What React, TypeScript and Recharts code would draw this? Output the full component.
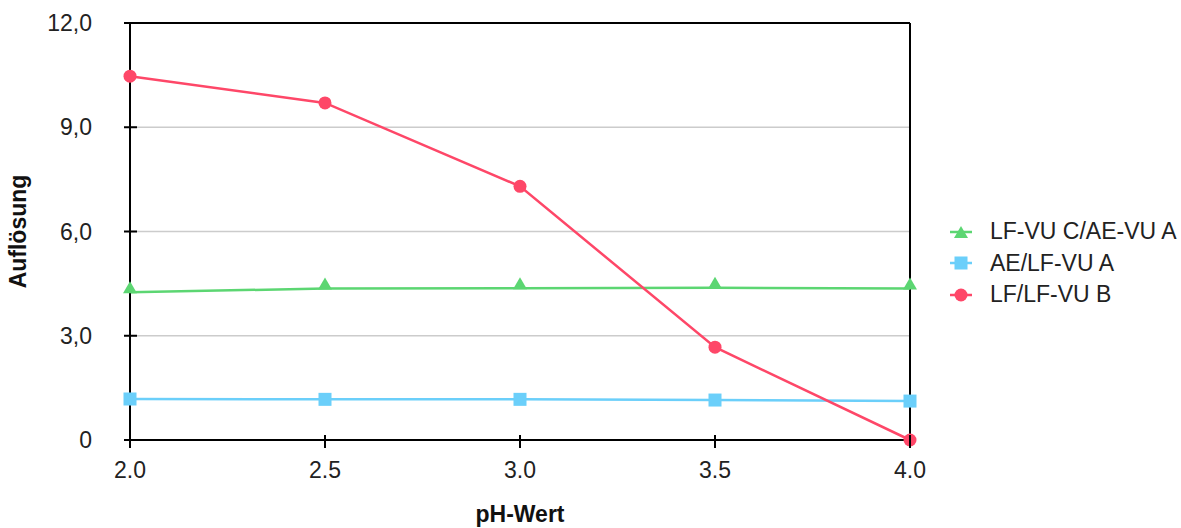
import { LineChart, Line, XAxis, YAxis, CartesianGrid, ReferenceLine, Label } from 'recharts';

const phValues = [2.0, 2.5, 3.0, 3.5, 4.0];
const lfVuCAeVuA = [4.25, 4.36, 4.37, 4.38, 4.36];
const aeLfVuA = [1.18, 1.17, 1.17, 1.15, 1.12];
const lfLfVuB = [10.47, 9.7, 7.3, 2.67, 0];
const yTicks = [0, 3, 6, 9, 12];

const seriesNames = ['LF-VU C/AE-VU A', 'AE/LF-VU A', 'LF/LF-VU B'];
const seriesColors = ['#5cd672', '#6bcffa', '#fe4768'];
const seriesShapes = ['triangle', 'square', 'circle'];

const data = phValues.map((ph, i) => ({
  ph,
  green: lfVuCAeVuA[i],
  blue: aeLfVuA[i],
  red: lfLfVuB[i],
}));

const FONT = '"Liberation Sans", Arial, sans-serif';
const TEXT = '#222';
const TICK_SIZE = 5;
const Y_MARGIN = 33;
const X_MARGIN = 17;
const FS = 23;

function Marker({ shape, cx, cy, color }: { shape: string; cx: number; cy: number; color: string }) {
  if (shape === 'triangle') {
    return <polygon points={`${cx - 7},${cy + 1} ${cx + 7},${cy + 1} ${cx},${cy - 11}`} fill={color} />;
  }
  if (shape === 'square') {
    return <rect x={cx - 6.5} y={cy - 6.5} width={13} height={13} fill={color} />;
  }
  return <circle cx={cx} cy={cy} r={6.5} fill={color} />;
}

function makeDot(shape: string, color: string) {
  return (props: any) => {
    if (props.cx == null || props.cy == null) return <g key={props.index} />;
    return <Marker key={props.index} shape={shape} cx={props.cx} cy={props.cy} color={color} />;
  };
}

function YTick(props: any) {
  const { x, y, payload } = props;
  const axisX = x + TICK_SIZE + Y_MARGIN;
  const v = payload.value as number;
  const label = v === 0 ? '0' : v.toFixed(1).replace('.', ',');
  return (
    <g>
      <line x1={axisX - 6} x2={axisX + 7} y1={y} y2={y} stroke="#000" strokeWidth={2} />
      <text x={x} y={y} dy="0.355em" textAnchor="end" fontFamily={FONT} fontSize={FS} fill={TEXT}>
        {label}
      </text>
    </g>
  );
}

function XTick(props: any) {
  const { x, y, payload } = props;
  const axisY = y - TICK_SIZE - X_MARGIN;
  return (
    <g>
      <line x1={x} x2={x} y1={axisY - 5} y2={axisY + 8} stroke="#000" strokeWidth={2} />
      <text x={x} y={y} dy="0.71em" textAnchor="middle" fontFamily={FONT} fontSize={FS} fill={TEXT}>
        {(payload.value as number).toFixed(1)}
      </text>
    </g>
  );
}

function LegendBox() {
  return (
    <div style={{ position: 'absolute', left: 948, top: 216, fontFamily: FONT, fontSize: FS, color: TEXT }}>
      {seriesNames.map((name, i) => (
        <div key={name} style={{ display: 'flex', alignItems: 'center', height: 31.5, whiteSpace: 'nowrap' }}>
          <svg width={42} height={24} style={{ display: 'block' }}>
            <line x1={2} x2={24} y1={12} y2={12} stroke={seriesColors[i]} strokeWidth={2.5} />
            <Marker shape={seriesShapes[i]} cx={13} cy={seriesShapes[i] === 'triangle' ? 17 : 12} color={seriesColors[i]} />
          </svg>
          <span>{name}</span>
        </div>
      ))}
    </div>
  );
}

export default function App() {
  return (
    <div style={{ position: 'absolute', left: 0, top: 0, width: 1181, height: 528, background: '#fff' }}>
      <LineChart width={1181} height={528} data={data} margin={{ top: 23, right: 271, left: 0, bottom: 0 }}>
        <CartesianGrid vertical={false} stroke="#cccccc" strokeWidth={1.5} />
        <XAxis
          dataKey="ph"
          type="number"
          domain={[2, 4]}
          ticks={phValues}
          height={88}
          tickSize={TICK_SIZE}
          tickMargin={X_MARGIN}
          tickLine={false}
          tick={<XTick />}
          axisLine={{ stroke: '#000', strokeWidth: 2 }}
        >
          <Label
            value="pH-Wert"
            position="insideBottom"
            offset={6}
            style={{ fontFamily: FONT, fontSize: FS, fontWeight: 'bold', fill: '#111' }}
          />
        </XAxis>
        <YAxis
          type="number"
          domain={[0, 12]}
          ticks={yTicks}
          width={130}
          tickSize={TICK_SIZE}
          tickMargin={Y_MARGIN}
          tickLine={false}
          tick={<YTick />}
          axisLine={{ stroke: '#000', strokeWidth: 2 }}
        >
          <Label
            content={({ viewBox }: any) => (
              <text
                x={viewBox.x + 18}
                y={viewBox.y + viewBox.height / 2}
                transform={`rotate(-90, ${viewBox.x + 18}, ${viewBox.y + viewBox.height / 2})`}
                textAnchor="middle"
                dy="0.355em"
                fontFamily={FONT}
                fontSize={FS}
                fontWeight="bold"
                fill="#111"
              >
                Auflösung
              </text>
            )}
          />
        </YAxis>
        <ReferenceLine y={12} stroke="#000" strokeWidth={2} />
        <ReferenceLine x={4} stroke="#000" strokeWidth={2} />
        <Line dataKey="green" stroke={seriesColors[0]} strokeWidth={2.5} dot={makeDot('triangle', seriesColors[0])} isAnimationActive={false} />
        <Line dataKey="blue" stroke={seriesColors[1]} strokeWidth={2.5} dot={makeDot('square', seriesColors[1])} isAnimationActive={false} />
        <Line dataKey="red" stroke={seriesColors[2]} strokeWidth={2.5} dot={makeDot('circle', seriesColors[2])} isAnimationActive={false} />
      </LineChart>
      <LegendBox />
    </div>
  );
}
